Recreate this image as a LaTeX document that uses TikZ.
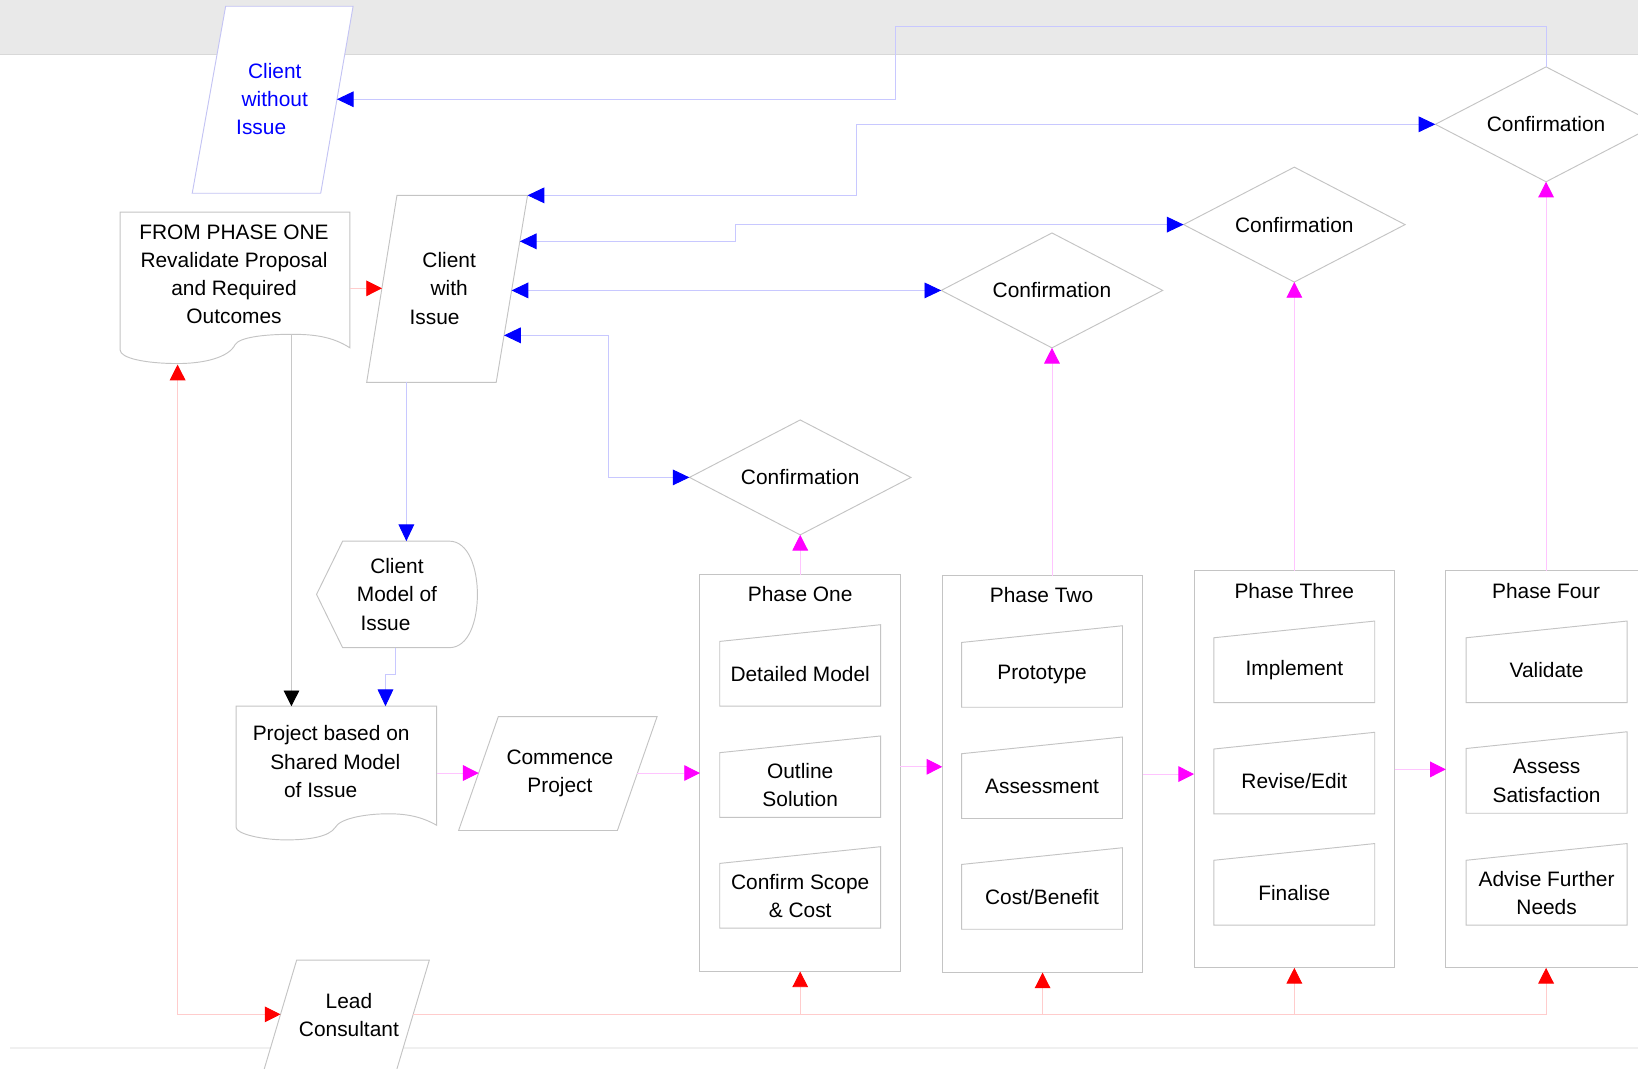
\documentclass[tikz,border=0pt]{standalone}
\usepackage{fontspec}
\setmainfont{Liberation Sans}
\usetikzlibrary{arrows.meta,shapes.geometric,calc}

\definecolor{band}{HTML}{E9E9E9}
\definecolor{bandedge}{HTML}{D8D8D8}
\definecolor{floorline}{HTML}{F0F0F0}
\definecolor{outline}{HTML}{C4C4C4}
\definecolor{lavender}{HTML}{C4C4F4}
\definecolor{bluewire}{HTML}{C8C8FF}
\definecolor{redwire}{HTML}{FFCCCC}
\definecolor{magwire}{HTML}{FFC4FF}
\definecolor{greywire}{HTML}{C8C8C8}
\definecolor{headblue}{HTML}{0000FF}
\definecolor{headred}{HTML}{FF0000}
\definecolor{headmag}{HTML}{FF00FF}

\tikzset{
  txt/.style={font=\fontsize{20}{27}\selectfont, align=center, inner sep=0pt},
  shapeline/.style={draw=outline, line width=0.9pt, fill=white, line join=miter},
  phase/.style={rectangle, draw=outline, line width=0.9pt, fill=white,
    minimum width=192pt, minimum height=380pt, inner sep=0pt, outer sep=0pt},
  conf/.style={diamond, draw=outline, line width=0.9pt, fill=white, txt, aspect=1.93,
    minimum width=212pt, minimum height=110pt, outer sep=0pt},
  wire/.style={line width=0.9pt, line join=miter},
  bluearrow/.style={wire, draw=bluewire, -{Triangle[length=16pt,width=15pt,color=headblue]}},
  bluetwin/.style={wire, draw=bluewire, {Triangle[length=16pt,width=15pt,color=headblue]}-{Triangle[length=16pt,width=15pt,color=headblue]}},
  redarrow/.style={wire, draw=redwire, -{Triangle[length=15pt,width=15pt,color=headred]}},
  redtwin/.style={wire, draw=redwire, {Triangle[length=15pt,width=15pt,color=headred]}-{Triangle[length=15pt,width=15pt,color=headred]}},
  magarrow/.style={wire, draw=magwire, -{Triangle[length=15pt,width=15pt,color=headmag]}},
  blackarrow/.style={wire, draw=greywire, -{Triangle[length=15pt,width=15pt,color=black]}},
}

% manual-input step box: name, centre x, centre y, text
\newcommand{\stepbox}[4]{%
  \draw[shapeline] (#2-77,#3-31) -- (#2+77,#3-47) -- (#2+77,#3+31) -- (#2-77,#3+31) -- cycle;
  \node[txt] (#1) at (#2,#3) {#4};
}

\begin{document}
\begin{tikzpicture}[x=1pt, y=-1pt]
\clip (0,0) rectangle (1568,1023);

% page furniture
\fill[band] (0,0) rectangle (1568,52);
\draw[bandedge, line width=1pt] (0,52.5) -- (1568,52.5);
\draw[floorline, line width=2pt] (10,1003) -- (1568,1003);

% Client without Issue
\draw[draw=lavender, line width=0.9pt, fill=white] (216,6) -- (338,6) -- (307,185) -- (184,185) -- cycle;
\node[txt, text=headblue] (cwo) at (263,95) {Client\\without\\Issue\hspace*{26pt}};
\coordinate (cwo-in) at (322.5,95);

% FROM PHASE ONE document
\draw[shapeline] (115,203) -- (335,203) -- (335,333)
  .. controls (318,322) and (300,320) .. (279,320)
  .. controls (252,320) and (229,323) .. (225,330)
  .. controls (219,342) and (196,348) .. (170,348)
  .. controls (140,348) and (115,343) .. (115,335) -- cycle;
\node[txt] (rev) at (224,262.5) {FROM PHASE ONE\\Revalidate Proposal\\and Required\\Outcomes};
\coordinate (rev-right) at (335,276);
\coordinate (rev-foot) at (170,349);
\coordinate (rev-hump) at (279,320);

% Client with Issue
\draw[shapeline] (380,187) -- (505,187) -- (475,366) -- (351,366) -- cycle;
\node[txt] (cwi) at (430,276) {Client\\with\\Issue\hspace*{28pt}};
\coordinate (cwi-in) at (365.6,276);
\coordinate (cwi-r1) at (505,187);
\coordinate (cwi-r2) at (497.6,231);
\coordinate (cwi-r3) at (489.7,278);
\coordinate (cwi-r4) at (482.5,321);
\coordinate (cwi-bot) at (389,366);

% Client Model of Issue
\draw[shapeline] (303,569) -- (328,518) -- (430,518)
  .. controls (449,518) and (457,545) .. (457,569)
  .. controls (457,594) and (449,620) .. (430,620) -- (328,620) -- cycle;
\node[txt] (cmod) at (380,569) {Client\\Model of\\Issue\hspace*{22pt}};
\coordinate (cmod-top) at (389,518);
\coordinate (cmod-bot) at (379,620);

% Project based on Shared Model of Issue
\draw[shapeline] (226,676) -- (418,676) -- (418,790)
  .. controls (404,782) and (390,779) .. (372,779)
  .. controls (348,779) and (325,784) .. (321,792)
  .. controls (315,801) and (296,804) .. (274,804)
  .. controls (250,804) and (226,798) .. (226,792) -- cycle;
\node[txt] (proj) at (317,729) {Project based on\\\hspace*{8pt}Shared Model\\of Issue\hspace*{20pt}};
\coordinate (proj-top-l) at (279,676);
\coordinate (proj-top-r) at (369,676);
\coordinate (proj-out) at (418,740);

% Commence Project
\draw[shapeline] (477,686) -- (629,686) -- (591,795) -- (439,795) -- cycle;
\node[txt] (comm) at (536,740.5) {Commence\\Project};
\coordinate (comm-in) at (458.2,740);
\coordinate (comm-out) at (610.2,740);

% Lead Consultant
\draw[shapeline] (284,919) -- (411,919) -- (372,1050) -- (245,1050) -- cycle;
\node[txt] (lead) at (334,971.5) {Lead\\Consultant};
\coordinate (lead-in) at (268.5,971);
\coordinate (lead-out) at (395.5,971);

% phases
\node[phase] (p1) at (766,740) {};
\node[phase] (p2) at (998,741) {};
\node[phase] (p3) at (1239,736.5) {};
\node[phase] (p4) at (1480,736.5) {};
\node[txt] (t1) at (766,569) {Phase One};
\node[txt] (t2) at (997,570) {Phase Two};
\node[txt] (t3) at (1239,566) {Phase Three};
\node[txt] (t4) at (1480,566) {Phase Four};

\stepbox{s11}{766}{645}{Detailed Model}
\stepbox{s12}{766}{751.5}{Outline\\Solution}
\stepbox{s13}{766}{857.5}{Confirm Scope\\\& Cost}
\stepbox{s21}{997.5}{646}{Prototype}
\stepbox{s22}{997.5}{752.5}{Assessment}
\stepbox{s23}{997.5}{858.5}{Cost/Benefit}
\stepbox{s31}{1239}{641.5}{Implement}
\stepbox{s32}{1239}{748}{Revise/Edit}
\stepbox{s33}{1239}{854.5}{Finalise}
\stepbox{s41}{1480.5}{641.5}{Validate}
\stepbox{s42}{1480.5}{747.5}{Assess\\Satisfaction}
\stepbox{s43}{1480.5}{854.5}{Advise Further\\Needs}

% confirmations
\node[conf] (c1) at (766,457) {Confirmation};
\node[conf] (c2) at (1007,278) {Confirmation};
\node[conf] (c3) at (1239,215) {Confirmation};
\node[conf] (c4) at (1480,119) {Confirmation};

% blue connectors
\draw[bluearrow] (c4.north) |- (857,25) |- (cwo-in);
\draw[bluetwin] (cwi-r1) -- (820,187) |- (c4.west);
\draw[bluetwin] (cwi-r2) -- (704,231) |- (c3.west);
\draw[bluetwin] (cwi-r3) -- (c2.west);
\draw[bluetwin] (cwi-r4) -- (582,321) |- (c1.west);
\draw[bluearrow] (cwi-bot) -- (cmod-top);
\draw[bluearrow] (cmod-bot) -- (379,646) -| (proj-top-r);

% black connector
\draw[blackarrow] (rev-hump) -- (proj-top-l);

% red connectors
\draw[redarrow] (rev-right) -- (cwi-in);
\draw[redtwin] (rev-foot) |- (lead-in);
\draw[redarrow] (lead-out) -| (p1.south);
\draw[redarrow] (lead-out) -| (p2.south);
\draw[redarrow] (lead-out) -| (p3.south);
\draw[redarrow] (lead-out) -| (p4.south);

% magenta connectors
\draw[magarrow] (proj-out) -- (comm-in);
\draw[magarrow] (comm-out) -- (p1.west);
\draw[magarrow] ([yshift=6pt]p1.east) -- ([yshift=6pt]p1.east -| p2.west);
\draw[magarrow] (p2.east) -- (p2.east -| p3.west);
\draw[magarrow] (p3.east) -- (p3.east -| p4.west);
\draw[magarrow] (p1.north) -- (c1.south);
\draw[magarrow] (c2.south |- p2.north) -- (c2.south);
\draw[magarrow] (p3.north) -- (c3.south);
\draw[magarrow] (p4.north) -- (c4.south);
\end{tikzpicture}
\end{document}
